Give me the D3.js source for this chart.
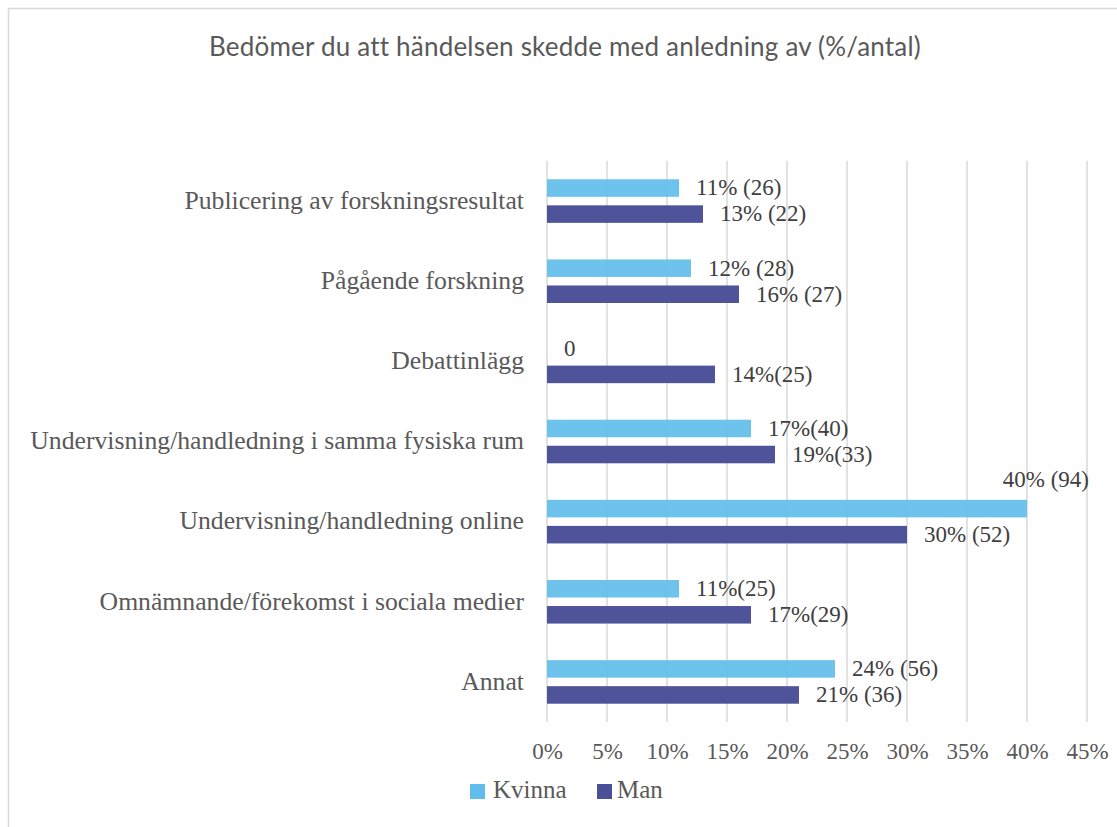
<!DOCTYPE html>
<html><head><meta charset="utf-8">
<script src="https://cdn.jsdelivr.net/npm/d3@7/dist/d3.min.js"></script>
<style>body{margin:0;background:#fff;}svg{display:block;}</style>
</head><body>
<svg id="c" width="1117" height="827"></svg>
<script>
const title = "Bedömer du att händelsen skedde med anledning av (%/antal)";
const categories = [
  "Publicering av forskningsresultat",
  "Pågående forskning",
  "Debattinlägg",
  "Undervisning/handledning i samma fysiska rum",
  "Undervisning/handledning online",
  "Omnämnande/förekomst i sociala medier",
  "Annat"
];
const seriesNames = ["Kvinna", "Man"];
const kvinnaValues = [11, 12, 0, 17, 40, 11, 24];
const manValues = [13, 16, 14, 19, 30, 17, 21];
const kvinnaLabels = ["11% (26)", "12% (28)", "0", "17%(40)", "40% (94)", "11%(25)", "24% (56)"];
const manLabels = ["13% (22)", "16% (27)", "14%(25)", "19%(33)", "30% (52)", "17%(29)", "21% (36)"];
const xTicks = [0, 5, 10, 15, 20, 25, 30, 35, 40, 45];
const colors = ["#61BEEA", "#4A5098"];
const opac = [0.92, 0.98];

const svg = d3.select("#c");
const W = 1117, H = 827;
const plot = {left: 547, right: 1087, top: 161, bottom: 722};

// frame
svg.append("path").attr("d", `M8.5,${H+5} V8.5 H${W+5}`).attr("fill","none")
  .attr("stroke","#d9d9d9").attr("stroke-width",1.5);

svg.append("text").attr("x", 565).attr("y", 56).attr("text-anchor","middle")
  .attr("font-family","Lato, 'Open Sans', sans-serif").attr("font-size",26)
  .attr("letter-spacing","0.2px")
  .attr("fill","#595959").text(title);

const x = d3.scaleLinear().domain([0,45]).range([plot.left, plot.right]);
const y0 = d3.scaleBand().domain(categories).range([plot.top, plot.bottom]).paddingInner(0).paddingOuter(0);
const y1 = d3.scaleBand().domain(seriesNames).range([0, y0.bandwidth()]).paddingInner(0.327).paddingOuter(0.702);

// gridlines
svg.append("g").selectAll("line").data(xTicks).join("line")
  .attr("x1", d=>x(d)).attr("x2", d=>x(d))
  .attr("y1", plot.top).attr("y2", plot.bottom)
  .attr("stroke","#d9d9d9").attr("stroke-width",1.5);

// x axis labels via d3 axis
const xAxis = d3.axisBottom(x).tickValues(xTicks).tickFormat(d=>d+"%").tickSize(0).tickPadding(0);
const gx = svg.append("g").attr("transform",`translate(0,${plot.bottom})`).call(xAxis);
gx.select(".domain").remove();
gx.selectAll("text").attr("font-family","'Liberation Serif', serif").attr("font-size",23)
  .attr("fill","#595959").attr("dy",null).attr("y",37);

// y axis labels
const yAxis = d3.axisLeft(y0).tickSize(0).tickPadding(23);
const gy = svg.append("g").attr("transform",`translate(${plot.left},0)`).call(yAxis);
gy.select(".domain").remove();
gy.selectAll("text").attr("font-family","'Liberation Serif', serif").attr("font-size",25.7)
  .attr("fill","#595959").attr("dy","0.3em");

const rows = categories.map((c,i)=>({cat:c, vals:[
  {s:"Kvinna", v:kvinnaValues[i], label:kvinnaLabels[i], color:colors[0], op:opac[0]},
  {s:"Man", v:manValues[i], label:manLabels[i], color:colors[1], op:opac[1]}
]}));

const g = svg.append("g").selectAll("g").data(rows).join("g")
  .attr("transform", d=>`translate(0,${y0(d.cat)})`);

g.selectAll("rect").data(d=>d.vals).join("rect")
  .attr("x", x(0)).attr("y", d=>y1(d.s))
  .attr("width", d=>x(d.v)-x(0)).attr("height", y1.bandwidth())
  .attr("fill", d=>d.color).attr("fill-opacity",d=>d.op);

g.selectAll("text").data(d=>d.vals).join("text")
  .attr("font-family","'Liberation Serif', serif").attr("font-size",23).attr("fill","#404040")
  .each(function(d){
    const t = d3.select(this).text(d.label);
    const xe = x(d.v) + 17;
    const w = this.getComputedTextLength();
    const cy = y1(d.s) + y1.bandwidth()/2;
    if (xe + w > W - 10) {
      t.attr("text-anchor","end").attr("x", plot.right + 2).attr("y", y1(d.s) - 13);
    } else {
      t.attr("x", xe).attr("y", cy).attr("dy","0.32em");
    }
  });

// legend
const lg = svg.append("g");
const legendPos = [{sx:470, tx:493}, {sx:597, tx:617}];
seriesNames.forEach((s,i)=>{
  lg.append("rect").attr("x",legendPos[i].sx).attr("y",784).attr("width",15).attr("height",15).attr("fill",colors[i]);
  lg.append("text").attr("x",legendPos[i].tx).attr("y",798)
    .attr("font-family","'Liberation Serif', serif").attr("font-size",25).attr("fill","#595959").text(s);
});
</script>
</body></html>
